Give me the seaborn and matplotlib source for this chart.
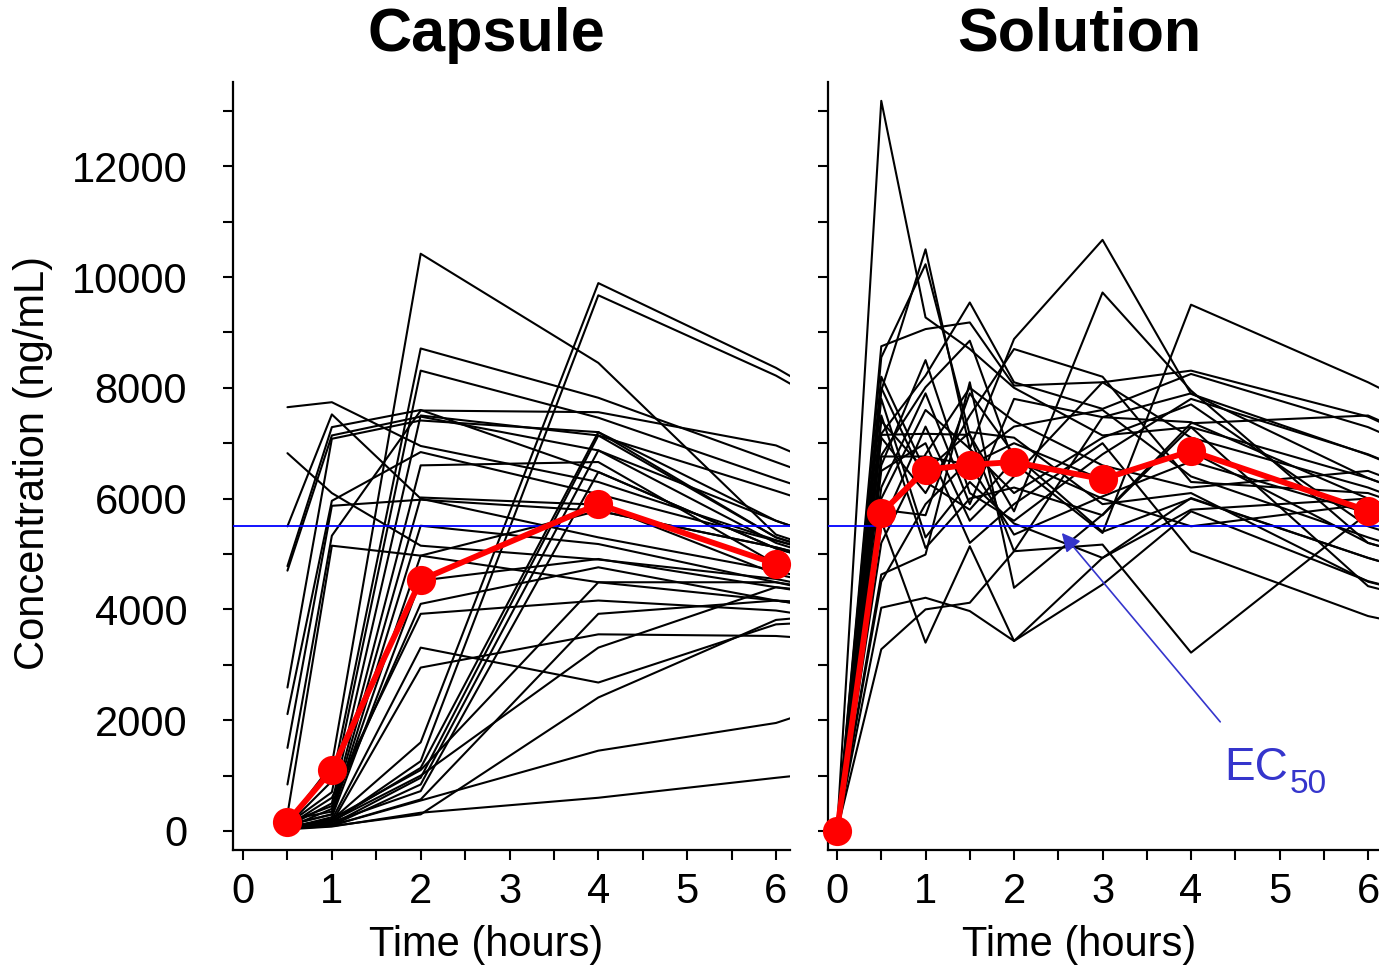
import numpy as np
import pandas as pd
import matplotlib
matplotlib.use('Agg')
import matplotlib.pyplot as plt
import seaborn as sns
from matplotlib.ticker import MultipleLocator

# ---------------- data ----------------
capsule_times = [0.5, 1, 2, 4, 6, 8]
cap_t05 = [7650, 6820, 5500, 4780, 4700, 2590, 2110, 1500, 840, 300, 150, 100, 120, 80, 60, 200, 100, 50,
           150, 90, 70, 60, 80, 50, 70, 40, 60, 90, 50, 40, 40, 30, 70, 60, 110]
cap_t1 = [7740, 6100, 7520, 7290, 7140, 7080, 5960, 5870, 5330, 5150, 1200, 900, 700, 500, 400, 350, 300, 250,
          450, 600, 200, 150, 200, 150, 180, 120, 100, 160, 100, 90, 100, 80, 180, 220, 300]
cap_t2 = [6950, 5150, 6000, 7600, 7480, 7410, 6840, 5980, 7590, 4970, 10420, 8710, 8310, 7500, 6600, 6020, 5510,
          4520, 4100, 3920, 3310, 2950, 1600, 1260, 1140, 960, 840, 720, 570, 300, 550, 330, 1000, 1100, 4970]
cap_t4 = [6300, 4900, 5300, 6480, 6870, 7200, 6080, 5780, 7560, 4490, 8450, 7820, 7460, 7140, 6660, 5890, 5180,
          4910, 4760, 4160, 2680, 3550, 9890, 9670, 7200, 7140, 6870, 6480, 3920, 2410, 1450, 600, 3310, 4490, 5780]
cap_t6 = [5250, 4550, 4700, 5100, 5600, 5300, 5240, 5120, 6960, 4160, 5350, 6660, 6360, 6140, 4820, 4640, 4490,
          4400, 4160, 3980, 3730, 3520, 8360, 8220, 5600, 5300, 5200, 5100, 4160, 3810, 1950, 960, 4400, 4490, 5120]
cap_t8 = [4300, 3900, 3900, 4200, 4500, 4300, 4400, 4300, 5600, 3700, 4300, 5500, 5300, 5100, 4000, 3900, 3800,
          3900, 3700, 3500, 3900, 3300, 6500, 6400, 4500, 4300, 4200, 4200, 4000, 4100, 3000, 1300, 4100, 4000, 4300]

capsule_mean_times = [0.5, 1, 2, 4, 6]
capsule_mean = [160, 1100, 4530, 5900, 4820]

solution_times = [0, 0.5, 1, 1.5, 2, 3, 4, 6, 8]
sol_t0 = [0, 0, 0, 0, 0, 0, 0, 0, 0, 0, 0, 0, 0, 0, 0, 0, 0, 0, 0, 0, 0, 0, 0, 0, 0, 0]
sol_t05 = [13180, 7950, 8550, 8750, 7170, 6780, 7150, 6760, 4630, 4030, 3280, 5600, 8200, 7500, 6200, 7100,
           5800, 6500, 7800, 5200, 6000, 8000, 4500, 6600, 7400, 5500]
sol_t1 = [9270, 10500, 10230, 9060, 8220, 8010, 7170, 6760, 4990, 4210, 4000, 3400, 6490, 5110, 7900, 6100,
          5700, 7000, 5300, 6800, 7600, 6300, 5900, 8500, 6500, 7300]
sol_t15 = [8700, 6900, 7150, 9180, 9540, 8850, 7150, 6610, 8100, 3970, 4120, 5140, 6610, 6000, 5900, 7500,
           7900, 5200, 6300, 8000, 6900, 5800, 6700, 6100, 7200, 5600]
sol_t2 = [8000, 8880, 5770, 8040, 8100, 6640, 5050, 5350, 4390, 3430, 5050, 3430, 7000, 6200, 7800, 8700,
          6800, 5900, 5550, 7400, 6100, 6700, 7300, 5600, 7100, 6400]
sol_t3 = [7140, 10670, 9720, 8100, 7620, 5380, 7470, 6040, 5710, 4930, 5170, 4450, 6340, 5700, 7470, 8200,
          5400, 7000, 4930, 6600, 7100, 6000, 7600, 6800, 5900, 8100]
sol_t4 = [7290, 7890, 7950, 8310, 8250, 9500, 7380, 6670, 7360, 6010, 3220, 5770, 6850, 7290, 7900, 6300,
          6000, 5050, 5800, 6200, 7700, 5500, 6400, 7800, 6100, 7100]
sol_t6 = [6370, 6790, 5200, 7480, 7290, 8100, 6000, 5740, 7500, 4930, 5740, 4510, 5200, 4420, 6370, 6100,
          4930, 3880, 6000, 6500, 5500, 5900, 5300, 6800, 4500, 6200]
sol_t8 = [5200, 5500, 4300, 6000, 5900, 6500, 4900, 4700, 6100, 4000, 4800, 3700, 4300, 3600, 5200, 5000,
          4000, 3200, 4900, 5300, 4500, 4800, 4300, 5500, 3700, 5000]

solution_mean_times = [0, 0.5, 1, 1.5, 2, 3, 4, 6]
solution_mean = [0, 5740, 6520, 6610, 6660, 6350, 6860, 5780]

ec50 = 5500
panel_titles = ['Capsule', 'Solution']
x_label = 'Time (hours)'
y_label = 'Concentration (ng/mL)'


def to_long(times, cols):
    rows = []
    for t, col in zip(times, cols):
        for subj, v in enumerate(col):
            rows.append({'subject': subj, 'time': t, 'conc': v})
    return pd.DataFrame(rows)


cap_df = to_long(capsule_times, [cap_t05, cap_t1, cap_t2, cap_t4, cap_t6, cap_t8])
sol_df = to_long(solution_times, [sol_t0, sol_t05, sol_t1, sol_t15, sol_t2, sol_t3, sol_t4, sol_t6, sol_t8])

# ---------------- style ----------------
sns.set_theme(style='ticks')
plt.rcParams['font.family'] = ['Liberation Sans', 'DejaVu Sans']

fig = plt.figure(figsize=(13.79, 9.67), dpi=100)
ax1 = fig.add_axes([233 / 1379, 1 - 850 / 967, (790 - 233) / 1379, (850 - 82) / 967])
ax2 = fig.add_axes([828 / 1379, 1 - 850 / 967, (1379 - 828) / 1379, (850 - 82) / 967])

panels = [
    (ax1, cap_df, capsule_mean_times, capsule_mean, (-0.113, 6.158)),
    (ax2, sol_df, solution_mean_times, solution_mean, (-0.102, 6.124)),
]

for ax, df, mt, mv, xl in panels:
    sns.lineplot(data=df, x='time', y='conc', units='subject', estimator=None,
                 color='black', linewidth=1.5, ax=ax, zorder=2)
    ax.axhline(ec50, color='#0000FF', linewidth=1.3, zorder=3)
    sns.lineplot(x=mt, y=mv, color='red', linewidth=4.2, marker='o', markersize=21,
                 markeredgewidth=0, ax=ax, zorder=5, clip_on=False)
    ax.set_xlim(*xl)
    ax.set_ylim(-343, 13520)
    ax.xaxis.set_major_locator(MultipleLocator(1))
    ax.xaxis.set_minor_locator(MultipleLocator(0.5))
    ax.yaxis.set_major_locator(MultipleLocator(2000))
    ax.yaxis.set_minor_locator(MultipleLocator(1000))
    ax.set_xlabel('')
    ax.set_ylabel('')
    for s in ['top', 'right']:
        ax.spines[s].set_visible(False)
    for s in ['left', 'bottom']:
        ax.spines[s].set_linewidth(1.6)
        ax.spines[s].set_color('black')
    ax.tick_params(axis='both', which='both', direction='out', width=1.5, length=7,
                   colors='black', labelsize=30)
    ax.tick_params(axis='y', which='both', pad=26)
    ax.tick_params(axis='x', which='both', pad=9)
    ax.set_facecolor('white')

ax2.tick_params(axis='y', labelleft=False)

# ---------------- texts ----------------
for cx, title in zip([486, 1079], panel_titles):
    fig.text(cx / 1379, 1 - 35 / 967, title, ha='center', va='center',
             fontsize=44, fontweight='bold', color='black')
    fig.text(cx / 1379, 1 - 945 / 967, x_label, ha='center', va='center',
             fontsize=30, color='black')
fig.text(33 / 1379, 1 - 463 / 967, y_label, rotation=90, ha='center', va='center',
         fontsize=30, color='black')

ec_color = '#3535CC'
ax2.annotate('', xy=(2.54, 5380), xytext=(4.33, 1970),
             arrowprops=dict(arrowstyle='-|>', color=ec_color, lw=1.2,
                             mutation_scale=28, shrinkA=0, shrinkB=0))
ax2.text(4.38, 920, 'EC', color=ec_color, fontsize=33, ha='left', va='baseline')
ax2.text(5.12, 680, '50', color=ec_color, fontsize=24, ha='left', va='baseline')

fig.savefig('out.png', dpi=100, facecolor='white')
